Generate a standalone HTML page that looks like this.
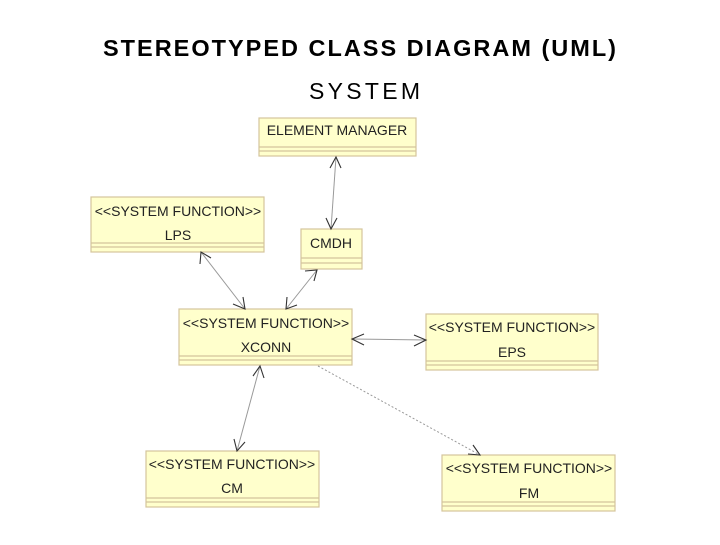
<!DOCTYPE html>
<html><head><style>
body{margin:0;background:#fff;}
svg text{font-family:"Liberation Sans",sans-serif;}
</style></head><body>
<svg width="720" height="540" xmlns="http://www.w3.org/2000/svg">
<text x="103" y="56" font-size="23.5" font-weight="bold" textLength="513" lengthAdjust="spacing">STEREOTYPED CLASS DIAGRAM (UML)</text>
<text x="309" y="99" font-size="23" textLength="111" lengthAdjust="spacing">SYSTEM</text>
<g fill="#ffffcc" stroke="#d4c49c" stroke-width="1.2">
<rect x="259" y="118" width="157" height="38"/>
<line x1="259" y1="147" x2="416" y2="147"/><line x1="259" y1="151" x2="416" y2="151"/>
<rect x="91" y="197" width="173" height="55"/>
<line x1="91" y1="243" x2="264" y2="243"/><line x1="91" y1="247" x2="264" y2="247"/>
<rect x="301" y="229" width="61" height="40"/>
<line x1="301" y1="258" x2="362" y2="258"/><line x1="301" y1="263" x2="362" y2="263"/>
<rect x="179" y="309" width="173" height="56"/>
<line x1="179" y1="356" x2="352" y2="356"/><line x1="179" y1="360" x2="352" y2="360"/>
<rect x="426" y="314" width="172" height="56"/>
<line x1="426" y1="361" x2="598" y2="361"/><line x1="426" y1="365" x2="598" y2="365"/>
<rect x="146" y="451" width="173" height="56"/>
<line x1="146" y1="498" x2="319" y2="498"/><line x1="146" y1="502" x2="319" y2="502"/>
<rect x="442" y="455" width="173" height="56"/>
<line x1="442" y1="502" x2="615" y2="502"/><line x1="442" y1="506" x2="615" y2="506"/>
</g>
<g font-size="14" text-anchor="middle" fill="#222">
<text x="337" y="135">ELEMENT MANAGER</text>
<text x="178" y="216">&lt;&lt;SYSTEM FUNCTION&gt;&gt;</text><text x="178" y="240">LPS</text>
<text x="331" y="248">CMDH</text>
<text x="266" y="328">&lt;&lt;SYSTEM FUNCTION&gt;&gt;</text><text x="266" y="352">XCONN</text>
<text x="512" y="332">&lt;&lt;SYSTEM FUNCTION&gt;&gt;</text><text x="512" y="357">EPS</text>
<text x="232" y="469">&lt;&lt;SYSTEM FUNCTION&gt;&gt;</text><text x="232" y="493">CM</text>
<text x="529" y="473">&lt;&lt;SYSTEM FUNCTION&gt;&gt;</text><text x="529" y="498">FM</text>
</g>
<g stroke="#999" stroke-width="1" fill="none">
<line x1="336" y1="157" x2="331" y2="229"/>
<line x1="201" y1="252" x2="245" y2="309"/>
<line x1="317" y1="270" x2="286" y2="309"/>
<line x1="352" y1="339" x2="426" y2="340"/>
<line x1="260" y1="366" x2="237" y2="451"/>
<line x1="318" y1="366" x2="480" y2="455" stroke-dasharray="2,2"/>
</g>
<g stroke="#333" stroke-width="1.1" fill="none">
<polyline points="330,168 336,157 341,168"/>
<polyline points="326,218 331,229 337,218"/>
<polyline points="200,264 201,252 211,258"/>
<polyline points="233,304 245,309 243,297"/>
<polyline points="305,271 317,270 314,281"/>
<polyline points="287,297 286,309 297,305"/>
<polyline points="364,334 352,339 364,345"/>
<polyline points="414,335 426,340 414,346"/>
<polyline points="253,376 260,366 264,378"/>
<polyline points="234,439 237,451 245,442"/>
<polyline points="468,454 480,455 473,445"/>
</g>
</svg>
</body></html>
